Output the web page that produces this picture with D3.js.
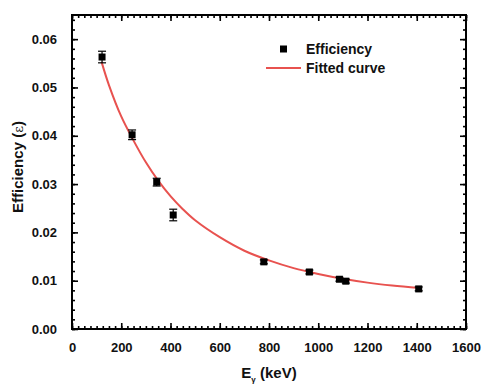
<!DOCTYPE html>
<html>
<head>
<meta charset="utf-8">
<script src="https://cdn.jsdelivr.net/npm/d3@7"></script>
<style>
  body { margin: 0; background: #fff; }
  text { font-family: "Liberation Sans", Arial, sans-serif; font-weight: bold; }
</style>
</head>
<body>
<div id="chart"></div>
<script>
// Measured efficiency points (energy in keV)
const energies = [122, 244, 344, 411, 779, 964, 1086, 1112, 1408];
const efficiency = [0.0563, 0.0402, 0.0304, 0.0236, 0.0139, 0.0118, 0.0103, 0.0099, 0.0083];
const errors = [0.0012, 0.0010, 0.0008, 0.0012, 0.0004, 0.0004, 0.0004, 0.0004, 0.0004];

// Fitted curve
const curveE = [120, 150, 200, 250, 300, 350, 400, 450, 500, 600, 700, 800, 900, 1000, 1100, 1200, 1300, 1410];
const curveEff = [0.0553, 0.0505, 0.0440, 0.0390, 0.0345, 0.0307, 0.0275, 0.0248, 0.0225, 0.0190, 0.0162, 0.0142, 0.0126, 0.0114, 0.0104, 0.0096, 0.0090, 0.0085];

const xTicks = [0, 200, 400, 600, 800, 1000, 1200, 1400, 1600];
const yTicks = [0, 0.01, 0.02, 0.03, 0.04, 0.05, 0.06];

const margin = { top: 15, right: 16, bottom: 56, left: 72 };
const width = 482 - margin.left - margin.right;
const height = 385 - margin.top - margin.bottom;

const svg = d3.select("#chart")
  .append("svg")
  .attr("width", 482)
  .attr("height", 385)
  .append("g")
  .attr("transform", `translate(${margin.left},${margin.top})`);

const x = d3.scaleLinear().domain([0, 1600]).range([0, width]);
const y = d3.scaleLinear().domain([0, 0.065]).range([height, 0]);

// Major and minor ticks, pointing inward on all four sides
const xMinor = d3.range(0, 1601, 25);
const yMinor = d3.range(0, 0.0651, 0.002);

function addAxis(axis, transform, labels) {
  const g = svg.append("g").attr("transform", transform).call(axis);
  g.select(".domain").remove();
  g.selectAll("line").attr("stroke", "#000").attr("stroke-width", 1.6);
  if (!labels) g.selectAll("text").remove();
  return g;
}

// minor
addAxis(d3.axisBottom(x).tickValues(xMinor).tickSize(-3).tickFormat(""), `translate(0,${height})`, false);
addAxis(d3.axisTop(x).tickValues(xMinor).tickSize(-3).tickFormat(""), "translate(0,0)", false);
addAxis(d3.axisLeft(y).tickValues(yMinor).tickSize(-3).tickFormat(""), "translate(0,0)", false);
addAxis(d3.axisRight(y).tickValues(yMinor).tickSize(-3).tickFormat(""), `translate(${width},0)`, false);

// major
const xb = addAxis(d3.axisBottom(x).tickValues(xTicks).tickSize(-6).tickPadding(14).tickFormat(d3.format("d")), `translate(0,${height})`, true);
addAxis(d3.axisTop(x).tickValues(xTicks).tickSize(-6).tickFormat(""), "translate(0,0)", false);
const yl = addAxis(d3.axisLeft(y).tickValues(yTicks).tickSize(-6).tickPadding(15).tickFormat(d3.format(".2f")), "translate(0,0)", true);
addAxis(d3.axisRight(y).tickValues(yTicks).tickSize(-6).tickFormat(""), `translate(${width},0)`, false);

xb.selectAll("text").attr("font-size", 13).attr("fill", "#111");
yl.selectAll("text").attr("font-size", 13).attr("fill", "#111");

// Frame
svg.append("rect")
  .attr("width", width)
  .attr("height", height)
  .attr("fill", "none")
  .attr("stroke", "#000")
  .attr("stroke-width", 2);

// Fitted curve
const line = d3.line()
  .curve(d3.curveCatmullRom)
  .x((d, i) => x(curveE[i]))
  .y(d => y(d));

svg.append("path")
  .datum(curveEff)
  .attr("fill", "none")
  .attr("stroke", "#e8524f")
  .attr("stroke-width", 2)
  .attr("d", line);

// Error bars
const pts = energies.map((e, i) => ({ e, v: efficiency[i], err: errors[i] }));
const eb = svg.selectAll(".eb").data(pts).enter().append("g").attr("class", "eb");
eb.append("line")
  .attr("x1", d => x(d.e)).attr("x2", d => x(d.e))
  .attr("y1", d => y(d.v + d.err)).attr("y2", d => y(d.v - d.err))
  .attr("stroke", "#000").attr("stroke-width", 1.2);
["+", "-"].forEach(s => {
  eb.append("line")
    .attr("x1", d => x(d.e) - 4).attr("x2", d => x(d.e) + 4)
    .attr("y1", d => y(s === "+" ? d.v + d.err : d.v - d.err))
    .attr("y2", d => y(s === "+" ? d.v + d.err : d.v - d.err))
    .attr("stroke", "#000").attr("stroke-width", 1.2);
});

// Square markers
svg.selectAll(".pt")
  .data(pts)
  .enter()
  .append("rect")
  .attr("class", "pt")
  .attr("x", d => x(d.e) - 3.5)
  .attr("y", d => y(d.v) - 3.5)
  .attr("width", 7)
  .attr("height", 7)
  .attr("fill", "#000");

// Axis titles
const xt = svg.append("text")
  .attr("x", width / 2)
  .attr("y", height + 49)
  .attr("text-anchor", "middle")
  .attr("font-size", 15)
  .attr("fill", "#111");
xt.append("tspan").text("E");
xt.append("tspan").attr("font-size", 8).attr("dy", 4).text("γ");
xt.append("tspan").attr("dy", -4).text(" (keV)");

const yt = svg.append("text")
  .attr("transform", "rotate(-90)")
  .attr("x", -height / 2 + 5)
  .attr("y", -49)
  .attr("text-anchor", "middle")
  .attr("font-size", 15)
  .attr("fill", "#111");
yt.append("tspan").text("Efficiency (");
yt.append("tspan").attr("font-weight", "normal").attr("font-family", "DejaVu Serif").attr("font-size", 13).text("ε");
yt.append("tspan").text(")");

// Legend
const legend = svg.append("g").attr("transform", `translate(${width - 216}, 0)`);
legend.append("rect")
  .attr("x", 30).attr("y", 30.5)
  .attr("width", 7).attr("height", 7)
  .attr("fill", "#000");
legend.append("text")
  .attr("x", 56).attr("y", 39)
  .attr("font-size", 14)
  .attr("fill", "#111")
  .text("Efficiency");
legend.append("line")
  .attr("x1", 16).attr("x2", 51)
  .attr("y1", 53).attr("y2", 53)
  .attr("stroke", "#e8524f").attr("stroke-width", 2);
legend.append("text")
  .attr("x", 56).attr("y", 58)
  .attr("font-size", 14)
  .attr("fill", "#111")
  .text("Fitted curve");
</script>
</body>
</html>
